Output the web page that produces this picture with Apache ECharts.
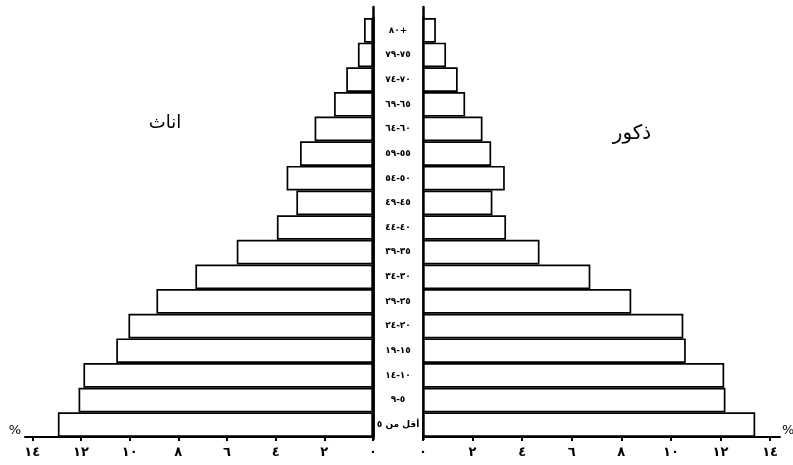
<!DOCTYPE html>
<html>
<head>
<meta charset="utf-8">
<script src="https://cdn.jsdelivr.net/npm/echarts@6/dist/echarts.min.js"></script>
<style>
  html, body { margin: 0; padding: 0; background: #fff; }
  #chart { width: 793px; height: 465px; }
</style>
</head>
<body>
<div id="chart"></div>
<script>
// Age groups, bottom (youngest) to top (oldest)
const ageGroups = ['أقل من ٥', '٥-٩', '١٠-١٤', '١٥-١٩', '٢٠-٢٤', '٢٥-٢٩', '٣٠-٣٤', '٣٥-٣٩',
  '٤٠-٤٤', '٤٥-٤٩', '٥٠-٥٤', '٥٥-٥٩', '٦٠-٦٤', '٦٥-٦٩', '٧٠-٧٤', '٧٥-٧٩', '٨٠+'];
// Females (اناث), percent
const females = [12.95, 12.1, 11.9, 10.55, 10.05, 8.9, 7.3, 5.6, 3.95, 3.15, 3.55, 3.0, 2.4, 1.6, 1.1, 0.62, 0.37];
// Males (ذكور), percent
const males = [13.4, 12.2, 12.15, 10.6, 10.5, 8.4, 6.75, 4.7, 3.35, 2.8, 3.3, 2.75, 2.4, 1.7, 1.4, 0.93, 0.52];
// Axis ticks
const tickValues = [0, 2, 4, 6, 8, 10, 12, 14];
const titleFemale = 'اناث';
const titleMale = 'ذكور';

const arabicDigits = ['٠','١','٢','٣','٤','٥','٦','٧','٨','٩'];
function toArabic(v) {
  return String(v).replace(/[0-9]/g, d => arabicDigits[+d]);
}

const FONT = 'DejaVu Sans';
const chart = echarts.init(document.getElementById('chart'), null, { renderer: 'canvas' });

const barStyle = {
  color: '#ffffff',
  borderColor: '#000000',
  borderWidth: 1.7
};

function xAxisCfg(gridIndex, inverse, max, nameGap) {
  return {
    type: 'value',
    gridIndex: gridIndex,
    inverse: inverse,
    min: 0,
    max: max,
    name: '%',
    nameLocation: 'end',
    nameGap: nameGap,
    nameTextStyle: { color: '#000', fontSize: 13, fontFamily: FONT, verticalAlign: 'bottom', padding: [0, 0, 0, 0] },
    splitLine: { show: false },
    axisLine: { show: true, lineStyle: { color: '#000', width: 2 } },
    axisTick: { show: true, customValues: tickValues, length: 4, lineStyle: { color: '#000', width: 2 } },
    axisLabel: {
      customValues: tickValues,
      formatter: v => toArabic(v),
      color: '#000',
      fontSize: 13,
      fontWeight: 'bold',
      fontFamily: FONT,
      margin: 9
    }
  };
}

// frame-only axes that carry the centre vertical lines a little above the top bar
function frameX(gridIndex) {
  return { type: 'value', gridIndex: gridIndex, min: 0, max: 1, show: false };
}
function frameY(gridIndex, position) {
  return {
    type: 'value', gridIndex: gridIndex, min: 0, max: 1, position: position,
    axisLine: { show: true, onZero: false, lineStyle: { color: '#000', width: 2.5 } },
    axisTick: { show: false }, axisLabel: { show: false }, splitLine: { show: false }
  };
}

const gridBase = { outerBoundsMode: 'none', containLabel: false };

chart.setOption({
  animation: false,
  backgroundColor: '#ffffff',
  title: [
    { text: titleFemale, left: 160, top: 109, textAlign: 'center',
      textStyle: { fontFamily: FONT, fontSize: 18, fontWeight: 'normal', color: '#000' } },
    { text: titleMale, left: 627, top: 119, textAlign: 'center',
      textStyle: { fontFamily: FONT, fontSize: 20, fontWeight: 'normal', color: '#000' } }
  ],
  grid: [
    Object.assign({ left: 25, right: 420, top: 18, bottom: 28 }, gridBase),
    Object.assign({ left: 423, right: 13, top: 18, bottom: 28 }, gridBase),
    Object.assign({ left: 25, right: 420, top: 7, bottom: 26 }, gridBase),
    Object.assign({ left: 423, right: 13, top: 7, bottom: 26 }, gridBase)
  ],
  xAxis: [
    xAxisCfg(0, true, 14.3, 4),
    xAxisCfg(1, false, 14.4, 2),
    frameX(2),
    frameX(3)
  ],
  yAxis: [
    {
      type: 'category',
      gridIndex: 0,
      position: 'right',
      data: ageGroups,
      axisLine: { show: true, lineStyle: { color: '#000', width: 2.5 } },
      axisTick: { show: false },
      axisLabel: { show: false }
    },
    {
      type: 'category',
      gridIndex: 1,
      position: 'left',
      data: ageGroups,
      axisLine: { show: true, lineStyle: { color: '#000', width: 2.5 } },
      axisTick: { show: false },
      axisLabel: {
        show: true,
        align: 'center',
        margin: 25,
        color: '#000',
        fontSize: 9,
        fontWeight: 'bold',
        fontFamily: FONT
      }
    },
    frameY(2, 'right'),
    frameY(3, 'left')
  ],
  series: [
    {
      name: titleFemale,
      type: 'bar',
      xAxisIndex: 0,
      yAxisIndex: 0,
      data: females,
      barCategoryGap: 0,
      itemStyle: barStyle
    },
    {
      name: titleMale,
      type: 'bar',
      xAxisIndex: 1,
      yAxisIndex: 1,
      data: males,
      barCategoryGap: 0,
      itemStyle: barStyle
    }
  ]
});
</script>
</body>
</html>
